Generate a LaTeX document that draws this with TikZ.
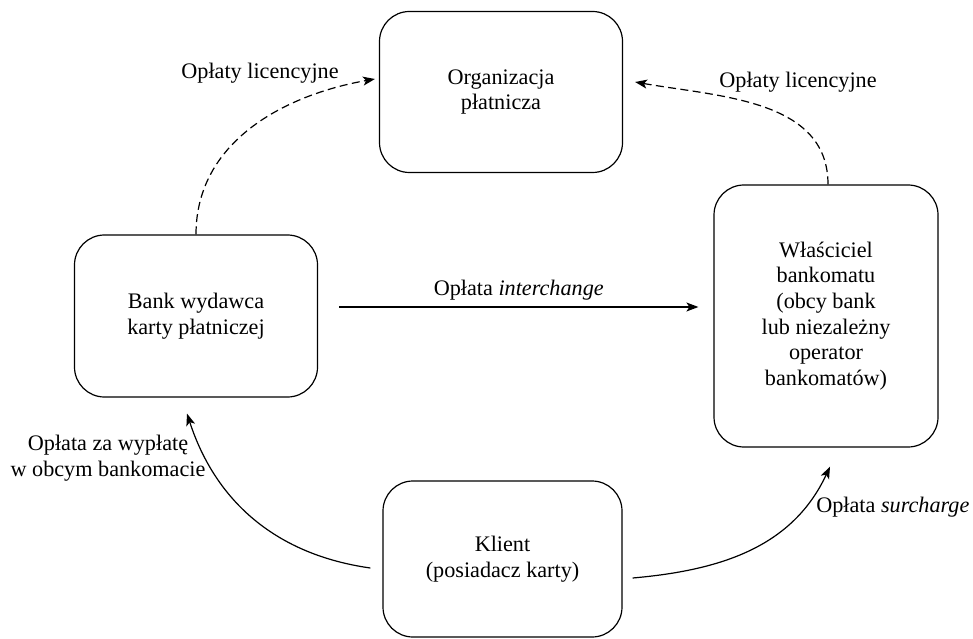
\documentclass[tikz,border=0pt]{standalone}
\usepackage{fontspec}
\setmainfont{Liberation Serif}
\usetikzlibrary{arrows.meta}

\begin{document}
\begin{tikzpicture}[x=0.5pt,y=0.5pt,
    font=\fontsize{11.1}{12.8}\selectfont,
    line width=0.6pt,
    mybox/.style={draw, rounded corners=15pt, align=center},
    mydash/.style={dash pattern=on 4pt off 2.2pt},
    myarrow/.style={-{Stealth[length=6pt,width=4.5pt,inset=1.5pt]}}]
  \useasboundingbox (0,0) rectangle (973,638);

  \node[mybox, minimum width=121.5pt, minimum height=80.5pt] (org) at (501,546) {Organizacja\\płatnicza};
  \node[mybox, minimum width=121.5pt, minimum height=81pt] (bank) at (196,322) {Bank wydawca\\karty płatniczej};
  \node[mybox, minimum width=112pt, minimum height=131pt] (owner) at (826,322) {Właściciel\\bankomatu\\(obcy bank\\lub niezależny\\operator\\bankomatów)};
  \node[mybox, minimum width=119.5pt, minimum height=78pt] (client) at (502.5,79) {Klient\\(posiadacz karty)};

  \draw[myarrow, mydash] (bank.north) to[out=90, in=190] ([xshift=-2pt,yshift=6.5pt]org.west);
  \draw[myarrow, mydash] ([xshift=1pt]owner.north) to[out=90, in=-10] ([xshift=6pt,yshift=5pt]org.east);
  \draw[myarrow] ([xshift=10.5pt,yshift=4.5pt]bank.east) -- node[above] {Opłata \textit{interchange}} ([xshift=-7.5pt,yshift=4.5pt]owner.west);
  \draw[myarrow] ([xshift=-6pt,yshift=-4.5pt]client.west) to[out=172, in=-72] ([xshift=-4.5pt,yshift=-8pt]bank.south);
  \draw[myarrow] ([xshift=5pt,yshift=-9.5pt]client.east) to[out=5, in=-115] ([xshift=2pt,yshift=-9.5pt]owner.south);

  \node (lic1) at (260,565) {Opłaty licencyjne};
  \node (lic2) at (798,556) {Opłaty licencyjne};
  \node[align=center] (foreign) at (108,180) {Opłata za wypłatę\\w obcym bankomacie};
  \node[anchor=east, inner sep=1pt] (surch) at (972,131) {Opłata \textit{surcharge}};
\end{tikzpicture}
\end{document}
